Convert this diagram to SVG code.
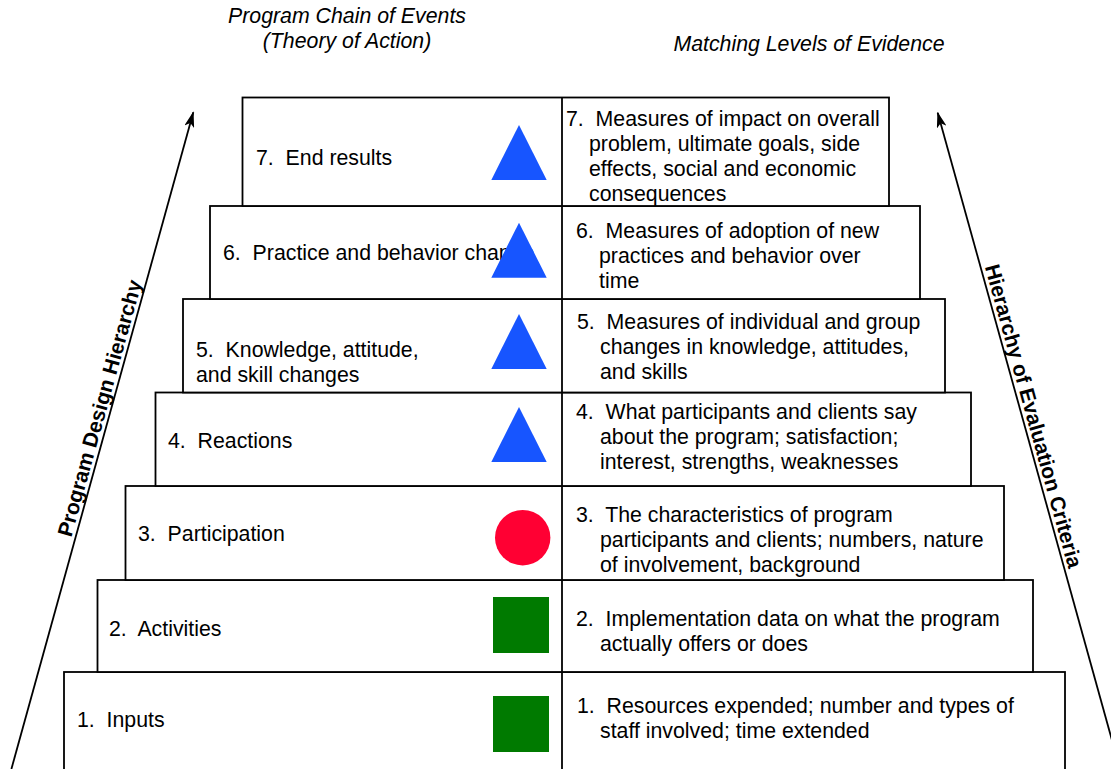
<svg xmlns="http://www.w3.org/2000/svg" width="1111" height="769" viewBox="0 0 1111 769">
  <style>
    .box { fill: #ffffff; stroke: #000000; stroke-width: 1.8; }
    .txt { font-family: "Liberation Sans", Arial, sans-serif; font-size: 21.3px; fill: #000000; }
    .title { font-family: "Liberation Sans", Arial, sans-serif; font-size: 21.3px; font-style: italic; fill: #000000; }
    .axis { font-family: "Liberation Sans", Arial, sans-serif; font-size: 21px; font-weight: bold; fill: #000000; }
    .tri { fill: #1755ff; }
    .sq { fill: #007a00; }
    .dot { fill: #ff0033; }
    .arrow { stroke: #000000; stroke-width: 1.8; fill: none; marker-end: url(#head); }
  </style>
  <defs>
    <marker id="head" viewBox="0 0 16 10" refX="15" refY="5" markerWidth="16" markerHeight="10" markerUnits="userSpaceOnUse" orient="auto">
      <path d="M0,0 L16,5 L0,10 L4,5 Z" fill="#000000"/>
    </marker>
  </defs>

  <rect width="1111" height="769" fill="#ffffff"/>

  <!-- column headings -->
  <text class="title" x="347" y="23" text-anchor="middle">Program Chain of Events</text>
  <text class="title" x="347" y="48" text-anchor="middle">(Theory of Action)</text>
  <text class="title" x="809" y="51" text-anchor="middle">Matching Levels of Evidence</text>

  <!-- hierarchy arrows with their labels -->
  <g id="connectors">
    <line class="arrow" x1="11.4" y1="769" x2="193.3" y2="112.3"/>
    <line class="arrow" x1="1120" y1="769" x2="937.7" y2="112.7"/>
  </g>
  <text class="axis" transform="translate(106.6,410) rotate(-74.5)" text-anchor="middle">Program Design Hierarchy</text>
  <text class="axis" transform="translate(1026.6,418) rotate(74.5)" text-anchor="middle">Hierarchy of Evaluation Criteria</text>

  <!-- level 1 (bottom step, runs past the lower edge) -->
  <g id="level1">
    <rect class="box" x="64" y="672" width="1001" height="110"/>
    <text class="txt" x="77" y="726.5" xml:space="preserve">1.  Inputs</text>
    <rect class="sq" x="493" y="696" width="56" height="56"/>
    <text class="txt" x="577" y="712.5" xml:space="preserve">1.  Resources expended; number and types of</text>
    <text class="txt" x="600" y="737.5">staff involved; time extended</text>
  </g>

  <!-- level 2 -->
  <g id="level2">
    <rect class="box" x="97.5" y="580" width="935.5" height="92"/>
    <text class="txt" x="109" y="635.5" xml:space="preserve">2.  Activities</text>
    <rect class="sq" x="493" y="597" width="56" height="56"/>
    <text class="txt" x="576" y="625.5" xml:space="preserve">2.  Implementation data on what the program</text>
    <text class="txt" x="600" y="651">actually offers or does</text>
  </g>

  <!-- level 3 -->
  <g id="level3">
    <rect class="box" x="125.5" y="486" width="878.5" height="94"/>
    <text class="txt" x="138" y="540.5" xml:space="preserve">3.  Participation</text>
    <circle class="dot" cx="522.7" cy="537.7" r="27.7"/>
    <text class="txt" x="576" y="521.5" xml:space="preserve">3.  The characteristics of program</text>
    <text class="txt" x="600" y="547">participants and clients; numbers, nature</text>
    <text class="txt" x="600" y="572">of involvement, background</text>
  </g>

  <!-- level 4 -->
  <g id="level4">
    <rect class="box" x="155.5" y="392.5" width="815.5" height="93.5"/>
    <text class="txt" x="168" y="447.5" xml:space="preserve">4.  Reactions</text>
    <polygon class="tri" points="519,407 491.3,462 546.7,462"/>
    <text class="txt" x="576" y="418.5" xml:space="preserve">4.  What participants and clients say</text>
    <text class="txt" x="600" y="444">about the program; satisfaction;</text>
    <text class="txt" x="600" y="469">interest, strengths, weaknesses</text>
  </g>

  <!-- level 5 -->
  <g id="level5">
    <rect class="box" x="183" y="299" width="762" height="93.5"/>
    <text class="txt" x="196" y="356.5" xml:space="preserve">5.  Knowledge, attitude,</text>
    <text class="txt" x="196" y="381.5">and skill changes</text>
    <polygon class="tri" points="519,314 491.3,369 546.7,369"/>
    <text class="txt" x="577" y="328.5" xml:space="preserve">5.  Measures of individual and group</text>
    <text class="txt" x="600" y="353.5">changes in knowledge, attitudes,</text>
    <text class="txt" x="600" y="378.5">and skills</text>
  </g>

  <!-- level 6 -->
  <g id="level6">
    <rect class="box" x="210" y="206" width="710" height="93"/>
    <text class="txt" x="223" y="259.5" xml:space="preserve">6.  Practice and behavior change</text>
    <polygon class="tri" points="519,222.7 491.3,277.7 546.7,277.7"/>
    <text class="txt" x="576" y="237.5" xml:space="preserve">6.  Measures of adoption of new</text>
    <text class="txt" x="599" y="262.5">practices and behavior over</text>
    <text class="txt" x="599" y="288">time</text>
  </g>

  <!-- level 7 (top step) -->
  <g id="level7">
    <rect class="box" x="242.5" y="97.5" width="646.5" height="108.5"/>
    <text class="txt" x="256" y="164.5" xml:space="preserve">7.  End results</text>
    <polygon class="tri" points="519,125 491.3,180 546.7,180"/>
    <text class="txt" x="566" y="125.5" xml:space="preserve">7.  Measures of impact on overall</text>
    <text class="txt" x="589" y="150.5">problem, ultimate goals, side</text>
    <text class="txt" x="589" y="176">effects, social and economic</text>
    <text class="txt" x="589" y="201">consequences</text>
  </g>

  <!-- column divider -->
  <line x1="562" y1="97.5" x2="562" y2="769" stroke="#000000" stroke-width="1.8"/>
</svg>
